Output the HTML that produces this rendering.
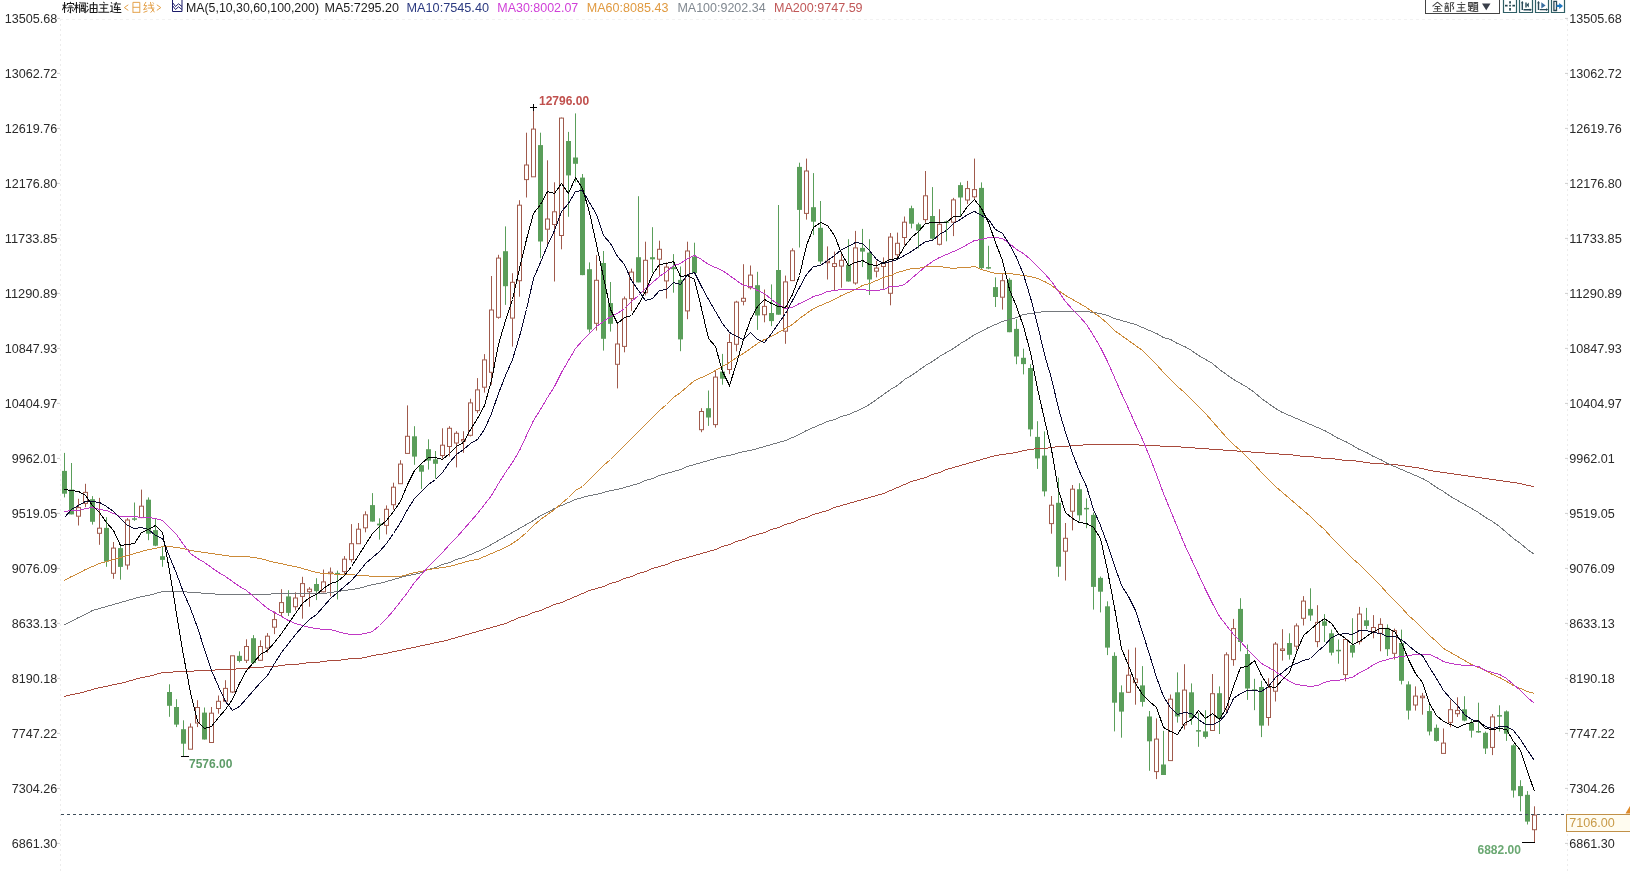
<!DOCTYPE html>
<html><head><meta charset="utf-8">
<style>
html,body{margin:0;padding:0;background:#fff;}
body{width:1630px;height:871px;overflow:hidden;position:relative;font-family:"Liberation Sans",sans-serif;}
svg{position:absolute;left:0;top:0;will-change:transform;}
</style></head><body>
<svg width="1630" height="871" viewBox="0 0 1630 871" font-family="Liberation Sans, sans-serif">
<path d="M60.5 19V871M1567.5 19V871" stroke="#ececec" stroke-dasharray="2 3" fill="none"/>
<path d="M60 19.5H1567" stroke="#f2f2f2" stroke-dasharray="3 3" fill="none"/>
<g font-size="12" fill="#2a2a2a">
<text x="4.74" y="22.7" textLength="52.56" lengthAdjust="spacingAndGlyphs">13505.68</text>
<text x="1569.3" y="22.7" textLength="52.56" lengthAdjust="spacingAndGlyphs">13505.68</text>
<path d="M57 18.4H60M1565 18.4H1568" stroke="#ccc" fill="none"/>
<text x="4.74" y="77.7" textLength="52.56" lengthAdjust="spacingAndGlyphs">13062.72</text>
<text x="1569.3" y="77.7" textLength="52.56" lengthAdjust="spacingAndGlyphs">13062.72</text>
<path d="M57 73.4H60M1565 73.4H1568" stroke="#ccc" fill="none"/>
<text x="4.74" y="132.7" textLength="52.56" lengthAdjust="spacingAndGlyphs">12619.76</text>
<text x="1569.3" y="132.7" textLength="52.56" lengthAdjust="spacingAndGlyphs">12619.76</text>
<path d="M57 128.4H60M1565 128.4H1568" stroke="#ccc" fill="none"/>
<text x="4.74" y="187.7" textLength="52.56" lengthAdjust="spacingAndGlyphs">12176.80</text>
<text x="1569.3" y="187.7" textLength="52.56" lengthAdjust="spacingAndGlyphs">12176.80</text>
<path d="M57 183.4H60M1565 183.4H1568" stroke="#ccc" fill="none"/>
<text x="4.74" y="242.7" textLength="52.56" lengthAdjust="spacingAndGlyphs">11733.85</text>
<text x="1569.3" y="242.7" textLength="52.56" lengthAdjust="spacingAndGlyphs">11733.85</text>
<path d="M57 238.4H60M1565 238.4H1568" stroke="#ccc" fill="none"/>
<text x="4.74" y="297.7" textLength="52.56" lengthAdjust="spacingAndGlyphs">11290.89</text>
<text x="1569.3" y="297.7" textLength="52.56" lengthAdjust="spacingAndGlyphs">11290.89</text>
<path d="M57 293.4H60M1565 293.4H1568" stroke="#ccc" fill="none"/>
<text x="4.74" y="352.7" textLength="52.56" lengthAdjust="spacingAndGlyphs">10847.93</text>
<text x="1569.3" y="352.7" textLength="52.56" lengthAdjust="spacingAndGlyphs">10847.93</text>
<path d="M57 348.4H60M1565 348.4H1568" stroke="#ccc" fill="none"/>
<text x="4.74" y="407.7" textLength="52.56" lengthAdjust="spacingAndGlyphs">10404.97</text>
<text x="1569.3" y="407.7" textLength="52.56" lengthAdjust="spacingAndGlyphs">10404.97</text>
<path d="M57 403.4H60M1565 403.4H1568" stroke="#ccc" fill="none"/>
<text x="11.75" y="462.7" textLength="45.55" lengthAdjust="spacingAndGlyphs">9962.01</text>
<text x="1569.3" y="462.7" textLength="45.55" lengthAdjust="spacingAndGlyphs">9962.01</text>
<path d="M57 458.4H60M1565 458.4H1568" stroke="#ccc" fill="none"/>
<text x="11.75" y="517.7" textLength="45.55" lengthAdjust="spacingAndGlyphs">9519.05</text>
<text x="1569.3" y="517.7" textLength="45.55" lengthAdjust="spacingAndGlyphs">9519.05</text>
<path d="M57 513.4H60M1565 513.4H1568" stroke="#ccc" fill="none"/>
<text x="11.75" y="572.7" textLength="45.55" lengthAdjust="spacingAndGlyphs">9076.09</text>
<text x="1569.3" y="572.7" textLength="45.55" lengthAdjust="spacingAndGlyphs">9076.09</text>
<path d="M57 568.4H60M1565 568.4H1568" stroke="#ccc" fill="none"/>
<text x="11.75" y="627.7" textLength="45.55" lengthAdjust="spacingAndGlyphs">8633.13</text>
<text x="1569.3" y="627.7" textLength="45.55" lengthAdjust="spacingAndGlyphs">8633.13</text>
<path d="M57 623.4H60M1565 623.4H1568" stroke="#ccc" fill="none"/>
<text x="11.75" y="682.7" textLength="45.55" lengthAdjust="spacingAndGlyphs">8190.18</text>
<text x="1569.3" y="682.7" textLength="45.55" lengthAdjust="spacingAndGlyphs">8190.18</text>
<path d="M57 678.4H60M1565 678.4H1568" stroke="#ccc" fill="none"/>
<text x="11.75" y="737.7" textLength="45.55" lengthAdjust="spacingAndGlyphs">7747.22</text>
<text x="1569.3" y="737.7" textLength="45.55" lengthAdjust="spacingAndGlyphs">7747.22</text>
<path d="M57 733.4H60M1565 733.4H1568" stroke="#ccc" fill="none"/>
<text x="11.75" y="792.7" textLength="45.55" lengthAdjust="spacingAndGlyphs">7304.26</text>
<text x="1569.3" y="792.7" textLength="45.55" lengthAdjust="spacingAndGlyphs">7304.26</text>
<path d="M57 788.4H60M1565 788.4H1568" stroke="#ccc" fill="none"/>
<text x="11.75" y="847.7" textLength="45.55" lengthAdjust="spacingAndGlyphs">6861.30</text>
<text x="1569.3" y="847.7" textLength="45.55" lengthAdjust="spacingAndGlyphs">6861.30</text>
<path d="M57 843.4H60M1565 843.4H1568" stroke="#ccc" fill="none"/>
</g>
<g stroke-width="1" fill="none">
<path d="M64.5 452.9V497.4" stroke="#5a9e5a"/>
<rect x="62.0" y="470.9" width="5" height="22.8" fill="#5a9e5a"/>
<path d="M71.5 463.0V514.4" stroke="#5a9e5a"/>
<rect x="69.0" y="489.6" width="5" height="24.8" fill="#5a9e5a"/>
<path d="M78.5 498.8V507.6M78.5 516.3V525.5" stroke="#a05a4c"/>
<rect x="76.5" y="507.6" width="4" height="8.6" fill="#fff" stroke="#a05a4c"/>
<path d="M85.5 483.8V492.4M85.5 503.4V507.1" stroke="#a05a4c"/>
<rect x="83.5" y="492.4" width="4" height="11.0" fill="#fff" stroke="#a05a4c"/>
<path d="M92.5 496.1V524.6" stroke="#5a9e5a"/>
<rect x="90.0" y="499.2" width="5" height="22.6" fill="#5a9e5a"/>
<path d="M99.5 497.9V528.2M99.5 533.4V544.8" stroke="#a05a4c"/>
<rect x="97.5" y="528.2" width="4" height="5.1" fill="#fff" stroke="#a05a4c"/>
<path d="M106.5 517.2V566.8" stroke="#5a9e5a"/>
<rect x="104.0" y="527.9" width="5" height="33.8" fill="#5a9e5a"/>
<path d="M113.5 542.0V548.1M113.5 573.3V578.8" stroke="#a05a4c"/>
<rect x="111.5" y="548.1" width="4" height="25.2" fill="#fff" stroke="#a05a4c"/>
<path d="M120.5 545.1V579.7" stroke="#5a9e5a"/>
<rect x="118.0" y="548.1" width="5" height="18.8" fill="#5a9e5a"/>
<path d="M127.5 518.1V520.0M127.5 565.0V569.6" stroke="#a05a4c"/>
<rect x="125.5" y="520.0" width="4" height="45.0" fill="#fff" stroke="#a05a4c"/>
<path d="M134.5 502.5V520.9" stroke="#5a9e5a"/>
<rect x="132.0" y="518.3" width="5" height="1.5" fill="#5a9e5a"/>
<path d="M141.5 489.6V506.2M141.5 517.6V518.1" stroke="#a05a4c"/>
<rect x="139.5" y="506.2" width="4" height="11.4" fill="#fff" stroke="#a05a4c"/>
<path d="M148.5 497.4V540.2" stroke="#5a9e5a"/>
<rect x="146.0" y="499.7" width="5" height="34.0" fill="#5a9e5a"/>
<path d="M155.5 519.0V546.2" stroke="#5a9e5a"/>
<rect x="153.0" y="530.1" width="5" height="15.6" fill="#5a9e5a"/>
<path d="M162.5 546.6V566.8" stroke="#5a9e5a"/>
<rect x="160.0" y="556.2" width="5" height="3.7" fill="#5a9e5a"/>
<path d="M169.5 684.3V716.8" stroke="#5a9e5a"/>
<rect x="167.0" y="692.0" width="5" height="13.8" fill="#5a9e5a"/>
<path d="M176.5 699.2V727.1" stroke="#5a9e5a"/>
<rect x="174.0" y="707.0" width="5" height="17.6" fill="#5a9e5a"/>
<path d="M183.5 720.3V756.0" stroke="#5a9e5a"/>
<rect x="181.0" y="729.2" width="5" height="14.5" fill="#5a9e5a"/>
<path d="M190.5 723.4V727.1M190.5 749.2V749.2" stroke="#a05a4c"/>
<rect x="188.5" y="727.1" width="4" height="22.1" fill="#fff" stroke="#a05a4c"/>
<path d="M197.5 700.2V707.5M197.5 723.0V727.1" stroke="#a05a4c"/>
<rect x="195.5" y="707.5" width="4" height="15.5" fill="#fff" stroke="#a05a4c"/>
<path d="M204.5 707.5V739.5" stroke="#5a9e5a"/>
<rect x="202.0" y="712.6" width="5" height="26.9" fill="#5a9e5a"/>
<path d="M211.5 707.0V713.2M211.5 742.6V742.6" stroke="#a05a4c"/>
<rect x="209.5" y="713.2" width="4" height="29.3" fill="#fff" stroke="#a05a4c"/>
<path d="M218.5 695.5V701.3M218.5 708.5V713.7" stroke="#a05a4c"/>
<rect x="216.5" y="701.3" width="4" height="7.2" fill="#fff" stroke="#a05a4c"/>
<path d="M225.5 680.2V688.4M225.5 701.3V702.3" stroke="#a05a4c"/>
<rect x="223.5" y="688.4" width="4" height="12.8" fill="#fff" stroke="#a05a4c"/>
<path d="M232.5 655.8V655.8M232.5 692.0V693.0" stroke="#a05a4c"/>
<rect x="230.5" y="655.8" width="4" height="36.2" fill="#fff" stroke="#a05a4c"/>
<path d="M239.5 651.3V662.4" stroke="#5a9e5a"/>
<rect x="237.0" y="655.8" width="5" height="5.2" fill="#5a9e5a"/>
<path d="M246.5 639.3V646.5M246.5 660.3V663.0" stroke="#a05a4c"/>
<rect x="244.5" y="646.5" width="4" height="13.8" fill="#fff" stroke="#a05a4c"/>
<path d="M253.5 635.1V664.1" stroke="#5a9e5a"/>
<rect x="251.0" y="638.2" width="5" height="24.8" fill="#5a9e5a"/>
<path d="M260.5 640.3V646.5M260.5 660.3V661.0" stroke="#a05a4c"/>
<rect x="258.5" y="646.5" width="4" height="13.8" fill="#fff" stroke="#a05a4c"/>
<path d="M267.5 633.1V636.2M267.5 647.9V652.7" stroke="#a05a4c"/>
<rect x="265.5" y="636.2" width="4" height="11.8" fill="#fff" stroke="#a05a4c"/>
<path d="M274.5 611.4V619.6M274.5 627.3V634.1" stroke="#a05a4c"/>
<rect x="272.5" y="619.6" width="4" height="7.6" fill="#fff" stroke="#a05a4c"/>
<path d="M281.5 589.2V602.6M281.5 612.5V616.0" stroke="#a05a4c"/>
<rect x="279.5" y="602.6" width="4" height="9.9" fill="#fff" stroke="#a05a4c"/>
<path d="M288.5 590.2V616.0" stroke="#5a9e5a"/>
<rect x="286.0" y="596.4" width="5" height="16.5" fill="#5a9e5a"/>
<path d="M295.5 592.3V598.0M295.5 606.7V610.4" stroke="#a05a4c"/>
<rect x="293.5" y="598.0" width="4" height="8.7" fill="#fff" stroke="#a05a4c"/>
<path d="M302.5 576.8V583.6M302.5 596.4V618.7" stroke="#a05a4c"/>
<rect x="300.5" y="583.6" width="4" height="12.8" fill="#fff" stroke="#a05a4c"/>
<path d="M309.5 587.1V589.2M309.5 591.6V606.7" stroke="#a05a4c"/>
<rect x="307.5" y="589.2" width="4" height="2.5" fill="#fff" stroke="#a05a4c"/>
<path d="M316.5 578.2V600.1" stroke="#5a9e5a"/>
<rect x="314.0" y="584.0" width="5" height="7.2" fill="#5a9e5a"/>
<path d="M323.5 569.5V581.9M323.5 591.8V592.3" stroke="#a05a4c"/>
<rect x="321.5" y="581.9" width="4" height="9.9" fill="#fff" stroke="#a05a4c"/>
<path d="M330.5 567.5V572.2M330.5 573.7V596.4" stroke="#a05a4c"/>
<rect x="328.5" y="572.2" width="4" height="1.5" fill="#fff" stroke="#a05a4c"/>
<path d="M337.5 570.6V599.5" stroke="#5a9e5a"/>
<rect x="335.0" y="572.9" width="5" height="1.5" fill="#5a9e5a"/>
<path d="M344.5 556.1V559.2M344.5 571.6V574.7" stroke="#a05a4c"/>
<rect x="342.5" y="559.2" width="4" height="12.4" fill="#fff" stroke="#a05a4c"/>
<path d="M351.5 524.1V543.7M351.5 559.6V562.3" stroke="#a05a4c"/>
<rect x="349.5" y="543.7" width="4" height="15.9" fill="#fff" stroke="#a05a4c"/>
<path d="M358.5 523.0V529.2M358.5 543.7V543.7" stroke="#a05a4c"/>
<rect x="356.5" y="529.2" width="4" height="14.5" fill="#fff" stroke="#a05a4c"/>
<path d="M365.5 511.3V514.8M365.5 527.8V532.3" stroke="#a05a4c"/>
<rect x="363.5" y="514.8" width="4" height="13.0" fill="#fff" stroke="#a05a4c"/>
<path d="M372.5 493.1V521.6" stroke="#5a9e5a"/>
<rect x="370.0" y="505.1" width="5" height="16.5" fill="#5a9e5a"/>
<path d="M379.5 518.3V539.6" stroke="#5a9e5a"/>
<rect x="377.0" y="523.6" width="5" height="1.7" fill="#5a9e5a"/>
<path d="M386.5 505.4V509.3M386.5 525.4V534.4" stroke="#a05a4c"/>
<rect x="384.5" y="509.3" width="4" height="16.1" fill="#fff" stroke="#a05a4c"/>
<path d="M393.5 482.7V487.2M393.5 504.7V509.6" stroke="#a05a4c"/>
<rect x="391.5" y="487.2" width="4" height="17.5" fill="#fff" stroke="#a05a4c"/>
<path d="M400.5 460.2V464.1M400.5 483.7V483.7" stroke="#a05a4c"/>
<rect x="398.5" y="464.1" width="4" height="19.6" fill="#fff" stroke="#a05a4c"/>
<path d="M407.5 405.4V436.3M407.5 453.3V453.3" stroke="#a05a4c"/>
<rect x="405.5" y="436.3" width="4" height="17.1" fill="#fff" stroke="#a05a4c"/>
<path d="M414.5 426.2V464.8" stroke="#5a9e5a"/>
<rect x="412.0" y="436.3" width="5" height="20.3" fill="#5a9e5a"/>
<path d="M421.5 464.8V488.9" stroke="#5a9e5a"/>
<rect x="419.0" y="465.2" width="5" height="6.5" fill="#5a9e5a"/>
<path d="M428.5 439.3V469.6" stroke="#5a9e5a"/>
<rect x="426.0" y="449.2" width="5" height="11.4" fill="#5a9e5a"/>
<path d="M435.5 451.0V478.6" stroke="#5a9e5a"/>
<rect x="433.0" y="459.3" width="5" height="4.5" fill="#5a9e5a"/>
<path d="M442.5 428.3V445.2M442.5 455.5V458.6" stroke="#a05a4c"/>
<rect x="440.5" y="445.2" width="4" height="10.3" fill="#fff" stroke="#a05a4c"/>
<path d="M449.5 426.2V428.3M449.5 446.5V456.5" stroke="#a05a4c"/>
<rect x="447.5" y="428.3" width="4" height="18.2" fill="#fff" stroke="#a05a4c"/>
<path d="M456.5 431.2V433.3M456.5 443.0V467.4" stroke="#a05a4c"/>
<rect x="454.5" y="433.3" width="4" height="9.7" fill="#fff" stroke="#a05a4c"/>
<path d="M463.5 431.2V439.5M463.5 441.0V452.9" stroke="#a05a4c"/>
<rect x="461.5" y="439.5" width="4" height="1.5" fill="#fff" stroke="#a05a4c"/>
<path d="M470.5 398.8V402.9M470.5 435.4V436.4" stroke="#a05a4c"/>
<rect x="468.5" y="402.9" width="4" height="32.4" fill="#fff" stroke="#a05a4c"/>
<path d="M477.5 378.1V389.9M477.5 410.6V413.2" stroke="#a05a4c"/>
<rect x="475.5" y="389.9" width="4" height="20.7" fill="#fff" stroke="#a05a4c"/>
<path d="M484.5 354.1V359.9M484.5 387.2V392.6" stroke="#a05a4c"/>
<rect x="482.5" y="359.9" width="4" height="27.3" fill="#fff" stroke="#a05a4c"/>
<path d="M491.5 276.0V310.0M491.5 372.3V384.7" stroke="#a05a4c"/>
<rect x="489.5" y="310.0" width="4" height="62.3" fill="#fff" stroke="#a05a4c"/>
<path d="M498.5 254.8V258.1M498.5 317.3V318.7" stroke="#a05a4c"/>
<rect x="496.5" y="258.1" width="4" height="59.2" fill="#fff" stroke="#a05a4c"/>
<path d="M505.5 226.4V304.9" stroke="#5a9e5a"/>
<rect x="503.0" y="251.2" width="5" height="35.0" fill="#5a9e5a"/>
<path d="M512.5 273.2V282.3M512.5 318.2V346.6" stroke="#a05a4c"/>
<rect x="510.5" y="282.3" width="4" height="35.8" fill="#fff" stroke="#a05a4c"/>
<path d="M519.5 200.2V205.2M519.5 280.7V296.7" stroke="#a05a4c"/>
<rect x="517.5" y="205.2" width="4" height="75.5" fill="#fff" stroke="#a05a4c"/>
<path d="M526.5 132.7V165.0M526.5 179.6V197.5" stroke="#a05a4c"/>
<rect x="524.5" y="165.0" width="4" height="14.6" fill="#fff" stroke="#a05a4c"/>
<path d="M533.5 107.9V129.1M533.5 176.8V176.8" stroke="#a05a4c"/>
<rect x="531.5" y="129.1" width="4" height="47.7" fill="#fff" stroke="#a05a4c"/>
<path d="M540.5 132.7V258.1" stroke="#5a9e5a"/>
<rect x="538.0" y="145.1" width="5" height="96.4" fill="#5a9e5a"/>
<path d="M547.5 160.3V219.0M547.5 229.2V244.3" stroke="#a05a4c"/>
<rect x="545.5" y="219.0" width="4" height="10.2" fill="#fff" stroke="#a05a4c"/>
<path d="M554.5 182.3V211.8M554.5 224.5V281.5" stroke="#a05a4c"/>
<rect x="552.5" y="211.8" width="4" height="12.7" fill="#fff" stroke="#a05a4c"/>
<path d="M561.5 117.6V118.1M561.5 235.5V249.3" stroke="#a05a4c"/>
<rect x="559.5" y="118.1" width="4" height="117.4" fill="#fff" stroke="#a05a4c"/>
<path d="M568.5 131.9V216.8" stroke="#5a9e5a"/>
<rect x="566.0" y="141.0" width="5" height="34.4" fill="#5a9e5a"/>
<path d="M575.5 113.4V182.3" stroke="#5a9e5a"/>
<rect x="573.0" y="157.5" width="5" height="6.3" fill="#5a9e5a"/>
<path d="M582.5 174.0V275.2" stroke="#5a9e5a"/>
<rect x="580.0" y="177.6" width="5" height="97.5" fill="#5a9e5a"/>
<path d="M589.5 262.4V332.6" stroke="#5a9e5a"/>
<rect x="587.0" y="269.2" width="5" height="60.3" fill="#5a9e5a"/>
<path d="M596.5 255.1V280.3M596.5 323.3V330.6" stroke="#a05a4c"/>
<rect x="594.5" y="280.3" width="4" height="43.0" fill="#fff" stroke="#a05a4c"/>
<path d="M603.5 251.0V350.6" stroke="#5a9e5a"/>
<rect x="601.0" y="263.0" width="5" height="75.8" fill="#5a9e5a"/>
<path d="M610.5 282.0V331.6" stroke="#5a9e5a"/>
<rect x="608.0" y="303.1" width="5" height="20.7" fill="#5a9e5a"/>
<path d="M617.5 323.3V344.0M617.5 364.2V388.4" stroke="#a05a4c"/>
<rect x="615.5" y="344.0" width="4" height="20.3" fill="#fff" stroke="#a05a4c"/>
<path d="M624.5 296.5V298.9M624.5 346.5V352.3" stroke="#a05a4c"/>
<rect x="622.5" y="298.9" width="4" height="47.5" fill="#fff" stroke="#a05a4c"/>
<path d="M631.5 268.6V272.1M631.5 298.5V310.9" stroke="#a05a4c"/>
<rect x="629.5" y="272.1" width="4" height="26.5" fill="#fff" stroke="#a05a4c"/>
<path d="M638.5 196.2V282.4" stroke="#5a9e5a"/>
<rect x="636.0" y="257.2" width="5" height="25.2" fill="#5a9e5a"/>
<path d="M645.5 241.7V260.3M645.5 292.7V295.4" stroke="#a05a4c"/>
<rect x="643.5" y="260.3" width="4" height="32.4" fill="#fff" stroke="#a05a4c"/>
<path d="M652.5 227.2V272.7" stroke="#5a9e5a"/>
<rect x="650.0" y="257.2" width="5" height="2.1" fill="#5a9e5a"/>
<path d="M659.5 240.7V249.3M659.5 259.3V275.8" stroke="#a05a4c"/>
<rect x="657.5" y="249.3" width="4" height="9.9" fill="#fff" stroke="#a05a4c"/>
<path d="M666.5 262.4V267.1M666.5 281.0V298.5" stroke="#a05a4c"/>
<rect x="664.5" y="267.1" width="4" height="13.8" fill="#fff" stroke="#a05a4c"/>
<path d="M673.5 254.1V292.7" stroke="#5a9e5a"/>
<rect x="671.0" y="267.1" width="5" height="2.1" fill="#5a9e5a"/>
<path d="M680.5 266.5V351.2" stroke="#5a9e5a"/>
<rect x="678.0" y="279.9" width="5" height="59.5" fill="#5a9e5a"/>
<path d="M687.5 241.7V251.0M687.5 310.9V319.2" stroke="#a05a4c"/>
<rect x="685.5" y="251.0" width="4" height="59.9" fill="#fff" stroke="#a05a4c"/>
<path d="M694.5 242.7V274.3" stroke="#5a9e5a"/>
<rect x="692.0" y="256.6" width="5" height="16.4" fill="#5a9e5a"/>
<path d="M701.5 408.2V411.5M701.5 429.6V432.2" stroke="#a05a4c"/>
<rect x="699.5" y="411.5" width="4" height="18.2" fill="#fff" stroke="#a05a4c"/>
<path d="M708.5 390.5V425.9" stroke="#5a9e5a"/>
<rect x="706.0" y="408.2" width="5" height="9.3" fill="#5a9e5a"/>
<path d="M715.5 371.0V377.1M715.5 424.6V427.6" stroke="#a05a4c"/>
<rect x="713.5" y="377.1" width="4" height="47.5" fill="#fff" stroke="#a05a4c"/>
<path d="M722.5 353.9V384.7" stroke="#5a9e5a"/>
<rect x="720.0" y="371.6" width="5" height="7.1" fill="#5a9e5a"/>
<path d="M729.5 333.7V342.5M729.5 369.5V374.1" stroke="#a05a4c"/>
<rect x="727.5" y="342.5" width="4" height="27.0" fill="#fff" stroke="#a05a4c"/>
<path d="M736.5 300.8V302.1M736.5 344.3V351.3" stroke="#a05a4c"/>
<rect x="734.5" y="302.1" width="4" height="42.2" fill="#fff" stroke="#a05a4c"/>
<path d="M743.5 264.2V298.3M743.5 301.3V305.4" stroke="#a05a4c"/>
<rect x="741.5" y="298.3" width="4" height="3.0" fill="#fff" stroke="#a05a4c"/>
<path d="M750.5 265.5V275.1M750.5 287.7V289.5" stroke="#a05a4c"/>
<rect x="748.5" y="275.1" width="4" height="12.6" fill="#fff" stroke="#a05a4c"/>
<path d="M757.5 271.8V329.9" stroke="#5a9e5a"/>
<rect x="755.0" y="285.2" width="5" height="30.3" fill="#5a9e5a"/>
<path d="M764.5 289.5V306.4M764.5 314.7V322.3" stroke="#a05a4c"/>
<rect x="762.5" y="306.4" width="4" height="8.3" fill="#fff" stroke="#a05a4c"/>
<path d="M771.5 284.4V326.1" stroke="#5a9e5a"/>
<rect x="769.0" y="313.0" width="5" height="8.1" fill="#5a9e5a"/>
<path d="M778.5 205.0V314.7" stroke="#5a9e5a"/>
<rect x="776.0" y="270.0" width="5" height="44.7" fill="#5a9e5a"/>
<path d="M785.5 275.6V281.9M785.5 331.1V343.8" stroke="#a05a4c"/>
<rect x="783.5" y="281.9" width="4" height="49.3" fill="#fff" stroke="#a05a4c"/>
<path d="M792.5 248.3V250.8M792.5 280.6V280.6" stroke="#a05a4c"/>
<rect x="790.5" y="250.8" width="4" height="29.8" fill="#fff" stroke="#a05a4c"/>
<path d="M799.5 162.7V247.5" stroke="#5a9e5a"/>
<rect x="797.0" y="166.9" width="5" height="43.0" fill="#5a9e5a"/>
<path d="M806.5 158.6V171.0M806.5 213.4V219.6" stroke="#a05a4c"/>
<rect x="804.5" y="171.0" width="4" height="42.4" fill="#fff" stroke="#a05a4c"/>
<path d="M813.5 173.1V235.1" stroke="#5a9e5a"/>
<rect x="811.0" y="207.2" width="5" height="14.5" fill="#5a9e5a"/>
<path d="M820.5 201.0V264.0" stroke="#5a9e5a"/>
<rect x="818.0" y="227.8" width="5" height="33.7" fill="#5a9e5a"/>
<path d="M827.5 246.4V261.2M827.5 262.7V279.5" stroke="#a05a4c"/>
<rect x="825.5" y="261.2" width="4" height="1.5" fill="#fff" stroke="#a05a4c"/>
<path d="M834.5 251.6V263.6M834.5 266.5V290.9" stroke="#a05a4c"/>
<rect x="832.5" y="263.6" width="4" height="2.9" fill="#fff" stroke="#a05a4c"/>
<path d="M841.5 251.6V260.3M841.5 266.1V287.8" stroke="#a05a4c"/>
<rect x="839.5" y="260.3" width="4" height="5.8" fill="#fff" stroke="#a05a4c"/>
<path d="M848.5 239.2V281.6" stroke="#5a9e5a"/>
<rect x="846.0" y="265.0" width="5" height="16.5" fill="#5a9e5a"/>
<path d="M855.5 230.9V247.9M855.5 283.0V284.7" stroke="#a05a4c"/>
<rect x="853.5" y="247.9" width="4" height="35.1" fill="#fff" stroke="#a05a4c"/>
<path d="M862.5 228.9V267.1" stroke="#5a9e5a"/>
<rect x="860.0" y="247.9" width="5" height="3.7" fill="#5a9e5a"/>
<path d="M869.5 239.2V295.0" stroke="#5a9e5a"/>
<rect x="867.0" y="252.6" width="5" height="26.9" fill="#5a9e5a"/>
<path d="M876.5 260.9V268.1M876.5 271.2V277.4" stroke="#a05a4c"/>
<rect x="874.5" y="268.1" width="4" height="3.1" fill="#fff" stroke="#a05a4c"/>
<path d="M883.5 257.4V263.0M883.5 266.5V288.8" stroke="#a05a4c"/>
<rect x="881.5" y="263.0" width="4" height="3.5" fill="#fff" stroke="#a05a4c"/>
<path d="M890.5 233.0V237.1M890.5 293.3V305.3" stroke="#a05a4c"/>
<rect x="888.5" y="237.1" width="4" height="56.2" fill="#fff" stroke="#a05a4c"/>
<path d="M897.5 232.6V243.3M897.5 254.7V257.8" stroke="#a05a4c"/>
<rect x="895.5" y="243.3" width="4" height="11.4" fill="#fff" stroke="#a05a4c"/>
<path d="M904.5 216.5V222.2M904.5 237.5V245.4" stroke="#a05a4c"/>
<rect x="902.5" y="222.2" width="4" height="15.3" fill="#fff" stroke="#a05a4c"/>
<path d="M911.5 205.7V228.4" stroke="#5a9e5a"/>
<rect x="909.0" y="208.2" width="5" height="15.5" fill="#5a9e5a"/>
<path d="M918.5 222.7V248.5" stroke="#5a9e5a"/>
<rect x="916.0" y="224.3" width="5" height="6.2" fill="#5a9e5a"/>
<path d="M925.5 171.0V195.8M925.5 219.6V222.7" stroke="#a05a4c"/>
<rect x="923.5" y="195.8" width="4" height="23.8" fill="#fff" stroke="#a05a4c"/>
<path d="M932.5 187.1V240.2" stroke="#5a9e5a"/>
<rect x="930.0" y="216.0" width="5" height="22.7" fill="#5a9e5a"/>
<path d="M939.5 209.2V224.3M939.5 244.4V245.4" stroke="#a05a4c"/>
<rect x="937.5" y="224.3" width="4" height="20.0" fill="#fff" stroke="#a05a4c"/>
<path d="M946.5 220.6V241.3" stroke="#5a9e5a"/>
<rect x="944.0" y="221.4" width="5" height="1.5" fill="#5a9e5a"/>
<path d="M953.5 197.9V199.9M953.5 222.2V236.1" stroke="#a05a4c"/>
<rect x="951.5" y="199.9" width="4" height="22.3" fill="#fff" stroke="#a05a4c"/>
<path d="M960.5 182.4V216.0" stroke="#5a9e5a"/>
<rect x="958.0" y="185.1" width="5" height="12.4" fill="#5a9e5a"/>
<path d="M967.5 180.9V188.6M967.5 199.9V204.1" stroke="#a05a4c"/>
<rect x="965.5" y="188.6" width="4" height="11.4" fill="#fff" stroke="#a05a4c"/>
<path d="M974.5 158.6V189.6M974.5 196.8V198.9" stroke="#a05a4c"/>
<rect x="972.5" y="189.6" width="4" height="7.2" fill="#fff" stroke="#a05a4c"/>
<path d="M981.5 182.4V269.2" stroke="#5a9e5a"/>
<rect x="979.0" y="187.9" width="5" height="80.2" fill="#5a9e5a"/>
<path d="M988.5 245.8V269.2" stroke="#5a9e5a"/>
<rect x="986.0" y="267.1" width="5" height="1.5" fill="#5a9e5a"/>
<path d="M995.5 277.4V307.0" stroke="#5a9e5a"/>
<rect x="993.0" y="287.1" width="5" height="9.9" fill="#5a9e5a"/>
<path d="M1002.5 273.8V280.7M1002.5 297.2V309.6" stroke="#a05a4c"/>
<rect x="1000.5" y="280.7" width="4" height="16.5" fill="#fff" stroke="#a05a4c"/>
<path d="M1009.5 277.9V332.2" stroke="#5a9e5a"/>
<rect x="1007.0" y="279.8" width="5" height="52.4" fill="#5a9e5a"/>
<path d="M1016.5 319.2V364.2" stroke="#5a9e5a"/>
<rect x="1014.0" y="328.9" width="5" height="27.6" fill="#5a9e5a"/>
<path d="M1023.5 348.7V374.4" stroke="#5a9e5a"/>
<rect x="1021.0" y="357.8" width="5" height="6.3" fill="#5a9e5a"/>
<path d="M1030.5 364.2V436.4" stroke="#5a9e5a"/>
<rect x="1028.0" y="368.0" width="5" height="61.4" fill="#5a9e5a"/>
<path d="M1037.5 421.2V468.9" stroke="#5a9e5a"/>
<rect x="1035.0" y="436.9" width="5" height="21.5" fill="#5a9e5a"/>
<path d="M1044.5 431.4V496.4" stroke="#5a9e5a"/>
<rect x="1042.0" y="455.6" width="5" height="35.8" fill="#5a9e5a"/>
<path d="M1051.5 496.0V505.2M1051.5 523.6V533.7" stroke="#a05a4c"/>
<rect x="1049.5" y="505.2" width="4" height="18.4" fill="#fff" stroke="#a05a4c"/>
<path d="M1058.5 477.7V576.8" stroke="#5a9e5a"/>
<rect x="1056.0" y="502.8" width="5" height="63.9" fill="#5a9e5a"/>
<path d="M1065.5 523.0V538.3M1065.5 551.1V580.5" stroke="#a05a4c"/>
<rect x="1063.5" y="538.3" width="4" height="12.9" fill="#fff" stroke="#a05a4c"/>
<path d="M1072.5 485.0V489.2M1072.5 511.3V530.4" stroke="#a05a4c"/>
<rect x="1070.5" y="489.2" width="4" height="22.0" fill="#fff" stroke="#a05a4c"/>
<path d="M1079.5 483.2V520.8" stroke="#5a9e5a"/>
<rect x="1077.0" y="489.2" width="5" height="26.1" fill="#5a9e5a"/>
<path d="M1086.5 498.4V528.2" stroke="#5a9e5a"/>
<rect x="1084.0" y="507.9" width="5" height="1.5" fill="#5a9e5a"/>
<path d="M1093.5 512.6V609.6" stroke="#5a9e5a"/>
<rect x="1091.0" y="514.9" width="5" height="72.0" fill="#5a9e5a"/>
<path d="M1100.5 576.5V612.4" stroke="#5a9e5a"/>
<rect x="1098.0" y="577.9" width="5" height="13.8" fill="#5a9e5a"/>
<path d="M1107.5 601.3V655.1" stroke="#5a9e5a"/>
<rect x="1105.0" y="606.3" width="5" height="41.3" fill="#5a9e5a"/>
<path d="M1114.5 652.3V731.4" stroke="#5a9e5a"/>
<rect x="1112.0" y="655.9" width="5" height="46.8" fill="#5a9e5a"/>
<path d="M1121.5 685.4V737.7" stroke="#5a9e5a"/>
<rect x="1119.0" y="692.3" width="5" height="19.3" fill="#5a9e5a"/>
<path d="M1128.5 649.6V675.2M1128.5 692.3V692.8" stroke="#a05a4c"/>
<rect x="1126.5" y="675.2" width="4" height="17.1" fill="#fff" stroke="#a05a4c"/>
<path d="M1135.5 647.6V679.0M1135.5 682.6V704.7" stroke="#a05a4c"/>
<rect x="1133.5" y="679.0" width="4" height="3.6" fill="#fff" stroke="#a05a4c"/>
<path d="M1142.5 666.1V706.6" stroke="#5a9e5a"/>
<rect x="1140.0" y="685.4" width="5" height="16.5" fill="#5a9e5a"/>
<path d="M1149.5 711.0V770.8" stroke="#5a9e5a"/>
<rect x="1147.0" y="716.5" width="5" height="24.8" fill="#5a9e5a"/>
<path d="M1156.5 718.4V739.1M1156.5 771.6V779.1" stroke="#a05a4c"/>
<rect x="1154.5" y="739.1" width="4" height="32.5" fill="#fff" stroke="#a05a4c"/>
<path d="M1163.5 730.8V774.9" stroke="#5a9e5a"/>
<rect x="1161.0" y="764.5" width="5" height="10.5" fill="#5a9e5a"/>
<path d="M1170.5 694.5V699.2M1170.5 760.6V760.6" stroke="#a05a4c"/>
<rect x="1168.5" y="699.2" width="4" height="61.4" fill="#fff" stroke="#a05a4c"/>
<path d="M1177.5 672.4V722.6" stroke="#5a9e5a"/>
<rect x="1175.0" y="692.3" width="5" height="24.2" fill="#5a9e5a"/>
<path d="M1184.5 664.2V690.1M1184.5 724.8V729.5" stroke="#a05a4c"/>
<rect x="1182.5" y="690.1" width="4" height="34.7" fill="#fff" stroke="#a05a4c"/>
<path d="M1191.5 683.4V724.8" stroke="#5a9e5a"/>
<rect x="1189.0" y="692.3" width="5" height="25.4" fill="#5a9e5a"/>
<path d="M1198.5 712.9V746.8" stroke="#5a9e5a"/>
<rect x="1196.0" y="730.1" width="5" height="1.5" fill="#5a9e5a"/>
<path d="M1205.5 710.2V738.6" stroke="#5a9e5a"/>
<rect x="1203.0" y="731.4" width="5" height="5.5" fill="#5a9e5a"/>
<path d="M1212.5 674.0V693.7M1212.5 730.4V730.9" stroke="#a05a4c"/>
<rect x="1210.5" y="693.7" width="4" height="36.8" fill="#fff" stroke="#a05a4c"/>
<path d="M1219.5 686.4V734.0" stroke="#5a9e5a"/>
<rect x="1217.0" y="693.2" width="5" height="25.6" fill="#5a9e5a"/>
<path d="M1226.5 652.3V654.8M1226.5 709.2V712.3" stroke="#a05a4c"/>
<rect x="1224.5" y="654.8" width="4" height="54.4" fill="#fff" stroke="#a05a4c"/>
<path d="M1233.5 618.9V628.6M1233.5 659.6V665.8" stroke="#a05a4c"/>
<rect x="1231.5" y="628.6" width="4" height="31.0" fill="#fff" stroke="#a05a4c"/>
<path d="M1240.5 598.2V651.3" stroke="#5a9e5a"/>
<rect x="1238.0" y="608.9" width="5" height="33.1" fill="#5a9e5a"/>
<path d="M1247.5 644.5V699.9" stroke="#5a9e5a"/>
<rect x="1245.0" y="654.0" width="5" height="34.5" fill="#5a9e5a"/>
<path d="M1254.5 678.8V710.2" stroke="#5a9e5a"/>
<rect x="1252.0" y="689.3" width="5" height="1.5" fill="#5a9e5a"/>
<path d="M1261.5 680.8V737.1" stroke="#5a9e5a"/>
<rect x="1259.0" y="687.0" width="5" height="38.6" fill="#5a9e5a"/>
<path d="M1268.5 678.2V687.5M1268.5 717.4V725.7" stroke="#a05a4c"/>
<rect x="1266.5" y="687.5" width="4" height="30.0" fill="#fff" stroke="#a05a4c"/>
<path d="M1275.5 642.0V644.1M1275.5 691.2V701.5" stroke="#a05a4c"/>
<rect x="1273.5" y="644.1" width="4" height="47.1" fill="#fff" stroke="#a05a4c"/>
<path d="M1282.5 629.2V649.0M1282.5 650.5V660.6" stroke="#a05a4c"/>
<rect x="1280.5" y="649.0" width="4" height="1.5" fill="#fff" stroke="#a05a4c"/>
<path d="M1289.5 633.3V659.6" stroke="#5a9e5a"/>
<rect x="1287.0" y="643.0" width="5" height="11.8" fill="#5a9e5a"/>
<path d="M1296.5 623.4V625.9M1296.5 646.1V650.3" stroke="#a05a4c"/>
<rect x="1294.5" y="625.9" width="4" height="20.3" fill="#fff" stroke="#a05a4c"/>
<path d="M1303.5 596.1V601.1M1303.5 618.2V625.5" stroke="#a05a4c"/>
<rect x="1301.5" y="601.1" width="4" height="17.2" fill="#fff" stroke="#a05a4c"/>
<path d="M1310.5 588.3V620.9" stroke="#5a9e5a"/>
<rect x="1308.0" y="608.9" width="5" height="6.6" fill="#5a9e5a"/>
<path d="M1317.5 605.2V622.4M1317.5 641.6V647.2" stroke="#a05a4c"/>
<rect x="1315.5" y="622.4" width="4" height="19.2" fill="#fff" stroke="#a05a4c"/>
<path d="M1324.5 614.1V642.0" stroke="#5a9e5a"/>
<rect x="1322.0" y="621.3" width="5" height="4.5" fill="#5a9e5a"/>
<path d="M1331.5 629.6V655.4" stroke="#5a9e5a"/>
<rect x="1329.0" y="633.3" width="5" height="19.4" fill="#5a9e5a"/>
<path d="M1338.5 639.5V663.7" stroke="#5a9e5a"/>
<rect x="1336.0" y="649.8" width="5" height="1.5" fill="#5a9e5a"/>
<path d="M1345.5 637.9V639.5M1345.5 674.6V681.3" stroke="#a05a4c"/>
<rect x="1343.5" y="639.5" width="4" height="35.1" fill="#fff" stroke="#a05a4c"/>
<path d="M1352.5 618.2V657.5" stroke="#5a9e5a"/>
<rect x="1350.0" y="645.1" width="5" height="7.6" fill="#5a9e5a"/>
<path d="M1359.5 606.9V614.1M1359.5 641.6V644.5" stroke="#a05a4c"/>
<rect x="1357.5" y="614.1" width="4" height="27.5" fill="#fff" stroke="#a05a4c"/>
<path d="M1366.5 607.9V629.2" stroke="#5a9e5a"/>
<rect x="1364.0" y="620.3" width="5" height="5.6" fill="#5a9e5a"/>
<path d="M1373.5 615.1V627.5M1373.5 631.7V638.3" stroke="#a05a4c"/>
<rect x="1371.5" y="627.5" width="4" height="4.1" fill="#fff" stroke="#a05a4c"/>
<path d="M1380.5 618.2V624.4M1380.5 633.3V651.3" stroke="#a05a4c"/>
<rect x="1378.5" y="624.4" width="4" height="8.9" fill="#fff" stroke="#a05a4c"/>
<path d="M1387.5 624.4V656.0" stroke="#5a9e5a"/>
<rect x="1385.0" y="627.9" width="5" height="21.3" fill="#5a9e5a"/>
<path d="M1394.5 628.6V630.6M1394.5 653.4V659.6" stroke="#a05a4c"/>
<rect x="1392.5" y="630.6" width="4" height="22.7" fill="#fff" stroke="#a05a4c"/>
<path d="M1401.5 629.6V684.4" stroke="#5a9e5a"/>
<rect x="1399.0" y="643.0" width="5" height="37.8" fill="#5a9e5a"/>
<path d="M1408.5 681.3V719.5" stroke="#5a9e5a"/>
<rect x="1406.0" y="684.4" width="5" height="26.2" fill="#5a9e5a"/>
<path d="M1415.5 686.4V696.1M1415.5 705.0V710.6" stroke="#a05a4c"/>
<rect x="1413.5" y="696.1" width="4" height="8.9" fill="#fff" stroke="#a05a4c"/>
<path d="M1422.5 692.9V696.2M1422.5 697.7V714.7" stroke="#a05a4c"/>
<rect x="1420.5" y="696.2" width="4" height="1.5" fill="#fff" stroke="#a05a4c"/>
<path d="M1429.5 705.3V735.4" stroke="#5a9e5a"/>
<rect x="1427.0" y="711.0" width="5" height="20.5" fill="#5a9e5a"/>
<path d="M1436.5 724.5V741.6" stroke="#5a9e5a"/>
<rect x="1434.0" y="727.8" width="5" height="13.1" fill="#5a9e5a"/>
<path d="M1443.5 728.5V743.1M1443.5 753.3V753.3" stroke="#a05a4c"/>
<rect x="1441.5" y="743.1" width="4" height="10.3" fill="#fff" stroke="#a05a4c"/>
<path d="M1450.5 699.5V709.7M1450.5 722.4V727.2" stroke="#a05a4c"/>
<rect x="1448.5" y="709.7" width="4" height="12.7" fill="#fff" stroke="#a05a4c"/>
<path d="M1457.5 697.3V710.4M1457.5 713.6V716.9" stroke="#a05a4c"/>
<rect x="1455.5" y="710.4" width="4" height="3.3" fill="#fff" stroke="#a05a4c"/>
<path d="M1464.5 696.2V721.3" stroke="#5a9e5a"/>
<rect x="1462.0" y="709.3" width="5" height="11.3" fill="#5a9e5a"/>
<path d="M1471.5 719.7V737.6" stroke="#5a9e5a"/>
<rect x="1469.0" y="722.8" width="5" height="7.9" fill="#5a9e5a"/>
<path d="M1478.5 702.7V732.8" stroke="#5a9e5a"/>
<rect x="1476.0" y="731.0" width="5" height="1.5" fill="#5a9e5a"/>
<path d="M1485.5 731.5V754.0" stroke="#5a9e5a"/>
<rect x="1483.0" y="732.8" width="5" height="15.7" fill="#5a9e5a"/>
<path d="M1492.5 714.1V716.9M1492.5 747.4V755.1" stroke="#a05a4c"/>
<rect x="1490.5" y="716.9" width="4" height="30.5" fill="#fff" stroke="#a05a4c"/>
<path d="M1499.5 705.3V731.5" stroke="#5a9e5a"/>
<rect x="1497.0" y="715.1" width="5" height="1.5" fill="#5a9e5a"/>
<path d="M1506.5 710.4V740.9" stroke="#5a9e5a"/>
<rect x="1504.0" y="711.4" width="5" height="22.3" fill="#5a9e5a"/>
<path d="M1513.5 744.2V797.6" stroke="#5a9e5a"/>
<rect x="1511.0" y="745.3" width="5" height="45.2" fill="#5a9e5a"/>
<path d="M1520.5 780.2V811.4" stroke="#5a9e5a"/>
<rect x="1518.0" y="786.1" width="5" height="10.0" fill="#5a9e5a"/>
<path d="M1527.5 791.1V824.5" stroke="#5a9e5a"/>
<rect x="1525.0" y="794.8" width="5" height="26.8" fill="#5a9e5a"/>
<path d="M1534.5 806.3V815.1M1534.5 829.7V842.3" stroke="#a05a4c"/>
<rect x="1532.5" y="815.1" width="4" height="14.6" fill="#fff" stroke="#a05a4c"/>
</g>
<g stroke-width="1" fill="none" shape-rendering="crispEdges">
<path d="M64.5 696.5 L71.5 694.5 L78.5 693.5 L85.5 691.5 L92.5 689.5 L99.5 687.5 L106.5 686.5 L113.5 684.5 L120.5 683.5 L127.5 681.5 L134.5 679.5 L141.5 677.5 L148.5 676.5 L155.5 674.5 L162.5 672.5 L169.5 672.5 L176.5 671.5 L183.5 671.5 L190.5 671.5 L197.5 670.5 L204.5 670.5 L211.5 670.5 L218.5 669.5 L225.5 669.5 L232.5 669.5 L239.5 668.5 L246.5 668.5 L253.5 667.5 L260.5 667.5 L267.5 666.5 L274.5 666.5 L281.5 665.5 L288.5 664.5 L295.5 664.5 L302.5 663.5 L309.5 662.5 L316.5 662.5 L323.5 661.5 L330.5 660.5 L337.5 660.5 L344.5 659.5 L351.5 658.5 L358.5 658.5 L365.5 657.5 L372.5 655.5 L379.5 654.5 L386.5 653.5 L393.5 651.5 L400.5 650.5 L407.5 648.5 L414.5 647.5 L421.5 645.5 L428.5 644.5 L435.5 642.5 L442.5 641.5 L449.5 639.5 L456.5 637.5 L463.5 635.5 L470.5 633.5 L477.5 631.5 L484.5 629.5 L491.5 627.5 L498.5 625.5 L505.5 623.5 L512.5 620.5 L519.5 617.5 L526.5 615.5 L533.5 612.5 L540.5 610.5 L547.5 607.5 L554.5 604.5 L561.5 602.5 L568.5 599.5 L575.5 596.5 L582.5 593.5 L589.5 590.5 L596.5 588.5 L603.5 586.5 L610.5 583.5 L617.5 581.5 L624.5 578.5 L631.5 576.5 L638.5 573.5 L645.5 571.5 L652.5 568.5 L659.5 566.5 L666.5 564.5 L673.5 561.5 L680.5 559.5 L687.5 557.5 L694.5 555.5 L701.5 553.5 L708.5 551.5 L715.5 549.5 L722.5 546.5 L729.5 544.5 L736.5 541.5 L743.5 539.5 L750.5 536.5 L757.5 534.5 L764.5 532.5 L771.5 529.5 L778.5 527.5 L785.5 524.5 L792.5 522.5 L799.5 519.5 L806.5 517.5 L813.5 514.5 L820.5 512.5 L827.5 510.5 L834.5 507.5 L841.5 505.5 L848.5 503.5 L855.5 501.5 L862.5 499.5 L869.5 497.5 L876.5 495.5 L883.5 493.5 L890.5 490.5 L897.5 487.5 L904.5 484.5 L911.5 481.5 L918.5 479.5 L925.5 477.5 L932.5 474.5 L939.5 472.5 L946.5 469.5 L953.5 467.5 L960.5 465.5 L967.5 463.5 L974.5 461.5 L981.5 459.5 L988.5 457.5 L995.5 455.5 L1002.5 454.5 L1009.5 453.5 L1016.5 452.5 L1023.5 450.5 L1030.5 449.5 L1037.5 448.5 L1044.5 448.5 L1051.5 447.5 L1058.5 446.5 L1065.5 446.5 L1072.5 445.5 L1079.5 445.5 L1086.5 444.5 L1093.5 444.5 L1100.5 444.5 L1107.5 444.5 L1114.5 444.5 L1121.5 444.5 L1128.5 444.5 L1135.5 444.5 L1142.5 445.5 L1149.5 445.5 L1156.5 445.5 L1163.5 446.5 L1170.5 446.5 L1177.5 446.5 L1184.5 447.5 L1191.5 447.5 L1198.5 448.5 L1205.5 448.5 L1212.5 449.5 L1219.5 449.5 L1226.5 450.5 L1233.5 450.5 L1240.5 451.5 L1247.5 451.5 L1254.5 452.5 L1261.5 452.5 L1268.5 453.5 L1275.5 453.5 L1282.5 454.5 L1289.5 454.5 L1296.5 455.5 L1303.5 456.5 L1310.5 456.5 L1317.5 457.5 L1324.5 458.5 L1331.5 458.5 L1338.5 459.5 L1345.5 460.5 L1352.5 460.5 L1359.5 461.5 L1366.5 462.5 L1373.5 463.5 L1380.5 463.5 L1387.5 464.5 L1394.5 464.5 L1401.5 465.5 L1408.5 466.5 L1415.5 467.5 L1422.5 468.5 L1429.5 470.5 L1436.5 471.5 L1443.5 472.5 L1450.5 473.5 L1457.5 474.5 L1464.5 475.5 L1471.5 476.5 L1478.5 477.5 L1485.5 478.5 L1492.5 479.5 L1499.5 480.5 L1506.5 481.5 L1513.5 482.5 L1520.5 483.5 L1527.5 485.5 L1534.5 486.5" stroke="#a84a3c"/>
<path d="M64.5 624.5 L71.5 621.5 L78.5 617.5 L85.5 614.5 L92.5 610.5 L99.5 608.5 L106.5 606.5 L113.5 604.5 L120.5 602.5 L127.5 600.5 L134.5 598.5 L141.5 596.5 L148.5 595.5 L155.5 593.5 L162.5 591.5 L169.5 591.5 L176.5 591.5 L183.5 591.5 L190.5 592.5 L197.5 592.5 L204.5 593.5 L211.5 593.5 L218.5 594.5 L225.5 594.5 L232.5 594.5 L239.5 594.5 L246.5 594.5 L253.5 594.5 L260.5 594.5 L267.5 594.5 L274.5 593.5 L281.5 593.5 L288.5 593.5 L295.5 593.5 L302.5 593.5 L309.5 593.5 L316.5 593.5 L323.5 593.5 L330.5 592.5 L337.5 591.5 L344.5 590.5 L351.5 589.5 L358.5 588.5 L365.5 586.5 L372.5 584.5 L379.5 583.5 L386.5 581.5 L393.5 579.5 L400.5 577.5 L407.5 575.5 L414.5 574.5 L421.5 572.5 L428.5 569.5 L435.5 567.5 L442.5 564.5 L449.5 562.5 L456.5 559.5 L463.5 557.5 L470.5 554.5 L477.5 551.5 L484.5 548.5 L491.5 544.5 L498.5 540.5 L505.5 536.5 L512.5 532.5 L519.5 528.5 L526.5 524.5 L533.5 520.5 L540.5 515.5 L547.5 512.5 L554.5 508.5 L561.5 505.5 L568.5 502.5 L575.5 499.5 L582.5 497.5 L589.5 495.5 L596.5 494.5 L603.5 492.5 L610.5 490.5 L617.5 489.5 L624.5 487.5 L631.5 485.5 L638.5 483.5 L645.5 480.5 L652.5 478.5 L659.5 475.5 L666.5 473.5 L673.5 471.5 L680.5 469.5 L687.5 466.5 L694.5 464.5 L701.5 462.5 L708.5 460.5 L715.5 458.5 L722.5 456.5 L729.5 455.5 L736.5 453.5 L743.5 451.5 L750.5 450.5 L757.5 448.5 L764.5 446.5 L771.5 444.5 L778.5 442.5 L785.5 440.5 L792.5 437.5 L799.5 434.5 L806.5 430.5 L813.5 427.5 L820.5 424.5 L827.5 421.5 L834.5 419.5 L841.5 416.5 L848.5 414.5 L855.5 411.5 L862.5 408.5 L869.5 404.5 L876.5 399.5 L883.5 394.5 L890.5 389.5 L897.5 385.5 L904.5 379.5 L911.5 375.5 L918.5 370.5 L925.5 365.5 L932.5 361.5 L939.5 356.5 L946.5 352.5 L953.5 348.5 L960.5 343.5 L967.5 339.5 L974.5 334.5 L981.5 331.5 L988.5 327.5 L995.5 324.5 L1002.5 321.5 L1009.5 319.5 L1016.5 317.5 L1023.5 314.5 L1030.5 313.5 L1037.5 312.5 L1044.5 311.5 L1051.5 311.5 L1058.5 311.5 L1065.5 311.5 L1072.5 311.5 L1079.5 311.5 L1086.5 311.5 L1093.5 312.5 L1100.5 313.5 L1107.5 315.5 L1114.5 318.5 L1121.5 320.5 L1128.5 322.5 L1135.5 324.5 L1142.5 327.5 L1149.5 330.5 L1156.5 333.5 L1163.5 337.5 L1170.5 339.5 L1177.5 343.5 L1184.5 346.5 L1191.5 350.5 L1198.5 355.5 L1205.5 359.5 L1212.5 363.5 L1219.5 369.5 L1226.5 374.5 L1233.5 379.5 L1240.5 383.5 L1247.5 387.5 L1254.5 392.5 L1261.5 398.5 L1268.5 403.5 L1275.5 408.5 L1282.5 412.5 L1289.5 415.5 L1296.5 418.5 L1303.5 421.5 L1310.5 424.5 L1317.5 427.5 L1324.5 430.5 L1331.5 434.5 L1338.5 438.5 L1345.5 441.5 L1352.5 445.5 L1359.5 449.5 L1366.5 452.5 L1373.5 456.5 L1380.5 459.5 L1387.5 463.5 L1394.5 466.5 L1401.5 469.5 L1408.5 472.5 L1415.5 475.5 L1422.5 478.5 L1429.5 482.5 L1436.5 487.5 L1443.5 491.5 L1450.5 496.5 L1457.5 500.5 L1464.5 504.5 L1471.5 508.5 L1478.5 512.5 L1485.5 517.5 L1492.5 521.5 L1499.5 526.5 L1506.5 532.5 L1513.5 538.5 L1520.5 543.5 L1527.5 549.5 L1534.5 554.5" stroke="#74787c"/>
<path d="M64.5 580.5 L71.5 576.5 L78.5 573.5 L85.5 569.5 L92.5 566.5 L99.5 563.5 L106.5 561.5 L113.5 559.5 L120.5 557.5 L127.5 555.5 L134.5 553.5 L141.5 551.5 L148.5 549.5 L155.5 548.5 L162.5 546.5 L169.5 546.5 L176.5 547.5 L183.5 548.5 L190.5 550.5 L197.5 551.5 L204.5 552.5 L211.5 553.5 L218.5 554.5 L225.5 555.5 L232.5 556.5 L239.5 556.5 L246.5 556.5 L253.5 557.5 L260.5 558.5 L267.5 560.5 L274.5 562.5 L281.5 563.5 L288.5 565.5 L295.5 566.5 L302.5 568.5 L309.5 570.5 L316.5 572.5 L323.5 573.5 L330.5 573.5 L337.5 574.5 L344.5 574.5 L351.5 574.5 L358.5 575.5 L365.5 575.5 L372.5 576.5 L379.5 576.5 L386.5 576.5 L393.5 576.5 L400.5 576.5 L407.5 574.5 L414.5 572.5 L421.5 571.5 L428.5 569.5 L435.5 568.5 L442.5 567.5 L449.5 566.5 L456.5 564.5 L463.5 562.5 L470.5 560.5 L477.5 559.5 L484.5 556.5 L491.5 553.5 L498.5 550.5 L505.5 547.5 L512.5 543.5 L519.5 538.5 L526.5 532.5 L533.5 525.5 L540.5 519.5 L547.5 514.5 L554.5 509.5 L561.5 503.5 L568.5 497.5 L575.5 490.5 L582.5 486.5 L589.5 479.5 L596.5 472.5 L603.5 465.5 L610.5 459.5 L617.5 452.5 L624.5 445.5 L631.5 438.5 L638.5 431.5 L645.5 424.5 L652.5 417.5 L659.5 410.5 L666.5 404.5 L673.5 397.5 L680.5 392.5 L687.5 386.5 L694.5 380.5 L701.5 377.5 L708.5 374.5 L715.5 370.5 L722.5 366.5 L729.5 362.5 L736.5 357.5 L743.5 353.5 L750.5 348.5 L757.5 343.5 L764.5 339.5 L771.5 336.5 L778.5 332.5 L785.5 328.5 L792.5 324.5 L799.5 318.5 L806.5 313.5 L813.5 308.5 L820.5 305.5 L827.5 302.5 L834.5 299.5 L841.5 295.5 L848.5 292.5 L855.5 289.5 L862.5 285.5 L869.5 283.5 L876.5 280.5 L883.5 277.5 L890.5 275.5 L897.5 272.5 L904.5 270.5 L911.5 268.5 L918.5 268.5 L925.5 266.5 L932.5 266.5 L939.5 266.5 L946.5 267.5 L953.5 268.5 L960.5 267.5 L967.5 267.5 L974.5 266.5 L981.5 269.5 L988.5 271.5 L995.5 273.5 L1002.5 273.5 L1009.5 273.5 L1016.5 274.5 L1023.5 275.5 L1030.5 276.5 L1037.5 278.5 L1044.5 281.5 L1051.5 285.5 L1058.5 290.5 L1065.5 295.5 L1072.5 299.5 L1079.5 303.5 L1086.5 307.5 L1093.5 312.5 L1100.5 317.5 L1107.5 323.5 L1114.5 330.5 L1121.5 335.5 L1128.5 340.5 L1135.5 345.5 L1142.5 350.5 L1149.5 357.5 L1156.5 364.5 L1163.5 372.5 L1170.5 379.5 L1177.5 386.5 L1184.5 392.5 L1191.5 399.5 L1198.5 406.5 L1205.5 413.5 L1212.5 421.5 L1219.5 429.5 L1226.5 437.5 L1233.5 444.5 L1240.5 450.5 L1247.5 457.5 L1254.5 464.5 L1261.5 472.5 L1268.5 479.5 L1275.5 486.5 L1282.5 492.5 L1289.5 498.5 L1296.5 504.5 L1303.5 510.5 L1310.5 516.5 L1317.5 523.5 L1324.5 529.5 L1331.5 537.5 L1338.5 544.5 L1345.5 551.5 L1352.5 558.5 L1359.5 564.5 L1366.5 571.5 L1373.5 578.5 L1380.5 585.5 L1387.5 593.5 L1394.5 600.5 L1401.5 607.5 L1408.5 615.5 L1415.5 621.5 L1422.5 628.5 L1429.5 635.5 L1436.5 641.5 L1443.5 648.5 L1450.5 652.5 L1457.5 656.5 L1464.5 660.5 L1471.5 664.5 L1478.5 667.5 L1485.5 670.5 L1492.5 674.5 L1499.5 677.5 L1506.5 681.5 L1513.5 685.5 L1520.5 688.5 L1527.5 691.5 L1534.5 693.5" stroke="#cc8a38"/>
<path d="M64.5 511.5 L71.5 510.5 L78.5 510.5 L85.5 508.5 L92.5 507.5 L99.5 509.5 L106.5 510.5 L113.5 513.5 L120.5 516.5 L127.5 516.5 L134.5 516.5 L141.5 517.5 L148.5 517.5 L155.5 518.5 L162.5 520.5 L169.5 527.5 L176.5 534.5 L183.5 544.5 L190.5 553.5 L197.5 558.5 L204.5 562.5 L211.5 567.5 L218.5 572.5 L225.5 576.5 L232.5 581.5 L239.5 586.5 L246.5 590.5 L253.5 596.5 L260.5 602.5 L267.5 608.5 L274.5 612.5 L281.5 616.5 L288.5 620.5 L295.5 623.5 L302.5 625.5 L309.5 627.5 L316.5 628.5 L323.5 629.5 L330.5 629.5 L337.5 631.5 L344.5 633.5 L351.5 634.5 L358.5 634.5 L365.5 633.5 L372.5 631.5 L379.5 625.5 L386.5 618.5 L393.5 610.5 L400.5 601.5 L407.5 592.5 L414.5 582.5 L421.5 574.5 L428.5 566.5 L435.5 559.5 L442.5 552.5 L449.5 544.5 L456.5 537.5 L463.5 529.5 L470.5 521.5 L477.5 513.5 L484.5 504.5 L491.5 495.5 L498.5 483.5 L505.5 472.5 L512.5 462.5 L519.5 450.5 L526.5 435.5 L533.5 420.5 L540.5 409.5 L547.5 397.5 L554.5 386.5 L561.5 372.5 L568.5 360.5 L575.5 348.5 L582.5 340.5 L589.5 333.5 L596.5 326.5 L603.5 321.5 L610.5 316.5 L617.5 313.5 L624.5 308.5 L631.5 301.5 L638.5 295.5 L645.5 288.5 L652.5 282.5 L659.5 276.5 L666.5 271.5 L673.5 265.5 L680.5 263.5 L687.5 258.5 L694.5 255.5 L701.5 259.5 L708.5 264.5 L715.5 267.5 L722.5 270.5 L729.5 275.5 L736.5 280.5 L743.5 285.5 L750.5 286.5 L757.5 290.5 L764.5 293.5 L771.5 299.5 L778.5 304.5 L785.5 308.5 L792.5 307.5 L799.5 303.5 L806.5 300.5 L813.5 296.5 L820.5 294.5 L827.5 291.5 L834.5 290.5 L841.5 289.5 L848.5 289.5 L855.5 289.5 L862.5 289.5 L869.5 290.5 L876.5 290.5 L883.5 289.5 L890.5 286.5 L897.5 286.5 L904.5 284.5 L911.5 278.5 L918.5 272.5 L925.5 266.5 L932.5 261.5 L939.5 257.5 L946.5 254.5 L953.5 251.5 L960.5 248.5 L967.5 244.5 L974.5 240.5 L981.5 239.5 L988.5 237.5 L995.5 237.5 L1002.5 238.5 L1009.5 243.5 L1016.5 249.5 L1023.5 253.5 L1030.5 259.5 L1037.5 266.5 L1044.5 273.5 L1051.5 281.5 L1058.5 291.5 L1065.5 301.5 L1072.5 309.5 L1079.5 316.5 L1086.5 324.5 L1093.5 335.5 L1100.5 347.5 L1107.5 361.5 L1114.5 377.5 L1121.5 393.5 L1128.5 408.5 L1135.5 424.5 L1142.5 439.5 L1149.5 456.5 L1156.5 474.5 L1163.5 493.5 L1170.5 510.5 L1177.5 527.5 L1184.5 544.5 L1191.5 559.5 L1198.5 574.5 L1205.5 589.5 L1212.5 603.5 L1219.5 616.5 L1226.5 625.5 L1233.5 634.5 L1240.5 641.5 L1247.5 649.5 L1254.5 656.5 L1261.5 663.5 L1268.5 667.5 L1275.5 671.5 L1282.5 676.5 L1289.5 681.5 L1296.5 684.5 L1303.5 685.5 L1310.5 686.5 L1317.5 685.5 L1324.5 682.5 L1331.5 680.5 L1338.5 680.5 L1345.5 678.5 L1352.5 677.5 L1359.5 672.5 L1366.5 669.5 L1373.5 664.5 L1380.5 661.5 L1387.5 659.5 L1394.5 657.5 L1401.5 656.5 L1408.5 655.5 L1415.5 654.5 L1422.5 654.5 L1429.5 654.5 L1436.5 657.5 L1443.5 661.5 L1450.5 663.5 L1457.5 664.5 L1464.5 665.5 L1471.5 665.5 L1478.5 666.5 L1485.5 670.5 L1492.5 672.5 L1499.5 674.5 L1506.5 678.5 L1513.5 684.5 L1520.5 690.5 L1527.5 697.5 L1534.5 703.5" stroke="#c038c4"/>
<path d="M64.5 517.5 L71.5 509.5 L78.5 505.5 L85.5 501.5 L92.5 501.5 L99.5 502.5 L106.5 506.5 L113.5 511.5 L120.5 518.5 L127.5 525.5 L134.5 528.5 L141.5 527.5 L148.5 529.5 L155.5 535.5 L162.5 538.5 L169.5 556.5 L176.5 573.5 L183.5 592.5 L190.5 608.5 L197.5 627.5 L204.5 649.5 L211.5 670.5 L218.5 686.5 L225.5 701.5 L232.5 710.5 L239.5 706.5 L246.5 698.5 L253.5 690.5 L260.5 682.5 L267.5 675.5 L274.5 663.5 L281.5 652.5 L288.5 643.5 L295.5 634.5 L302.5 626.5 L309.5 619.5 L316.5 614.5 L323.5 606.5 L330.5 598.5 L337.5 592.5 L344.5 586.5 L351.5 580.5 L358.5 572.5 L365.5 563.5 L372.5 557.5 L379.5 551.5 L386.5 543.5 L393.5 533.5 L400.5 522.5 L407.5 509.5 L414.5 498.5 L421.5 491.5 L428.5 484.5 L435.5 479.5 L442.5 472.5 L449.5 462.5 L456.5 454.5 L463.5 449.5 L470.5 443.5 L477.5 439.5 L484.5 429.5 L491.5 413.5 L498.5 393.5 L505.5 375.5 L512.5 359.5 L519.5 336.5 L526.5 309.5 L533.5 278.5 L540.5 262.5 L547.5 245.5 L554.5 230.5 L561.5 211.5 L568.5 203.5 L575.5 191.5 L582.5 190.5 L589.5 202.5 L596.5 214.5 L603.5 235.5 L610.5 243.5 L617.5 256.5 L624.5 264.5 L631.5 280.5 L638.5 290.5 L645.5 300.5 L652.5 298.5 L659.5 290.5 L666.5 289.5 L673.5 282.5 L680.5 284.5 L687.5 274.5 L694.5 272.5 L701.5 286.5 L708.5 299.5 L715.5 311.5 L722.5 323.5 L729.5 332.5 L736.5 336.5 L743.5 339.5 L750.5 332.5 L757.5 339.5 L764.5 342.5 L771.5 333.5 L778.5 323.5 L785.5 313.5 L792.5 300.5 L799.5 287.5 L806.5 274.5 L813.5 266.5 L820.5 265.5 L827.5 260.5 L834.5 255.5 L841.5 249.5 L848.5 246.5 L855.5 242.5 L862.5 243.5 L869.5 250.5 L876.5 259.5 L883.5 263.5 L890.5 261.5 L897.5 259.5 L904.5 255.5 L911.5 251.5 L918.5 246.5 L925.5 241.5 L932.5 240.5 L939.5 234.5 L946.5 230.5 L953.5 223.5 L960.5 219.5 L967.5 214.5 L974.5 211.5 L981.5 215.5 L988.5 219.5 L995.5 229.5 L1002.5 233.5 L1009.5 244.5 L1016.5 257.5 L1023.5 274.5 L1030.5 297.5 L1037.5 324.5 L1044.5 354.5 L1051.5 378.5 L1058.5 408.5 L1065.5 432.5 L1072.5 453.5 L1079.5 471.5 L1086.5 486.5 L1093.5 509.5 L1100.5 525.5 L1107.5 544.5 L1114.5 565.5 L1121.5 585.5 L1128.5 596.5 L1135.5 610.5 L1142.5 632.5 L1149.5 654.5 L1156.5 677.5 L1163.5 696.5 L1170.5 707.5 L1177.5 714.5 L1184.5 712.5 L1191.5 713.5 L1198.5 719.5 L1205.5 724.5 L1212.5 724.5 L1219.5 721.5 L1226.5 713.5 L1233.5 698.5 L1240.5 693.5 L1247.5 690.5 L1254.5 690.5 L1261.5 691.5 L1268.5 686.5 L1275.5 677.5 L1282.5 672.5 L1289.5 666.5 L1296.5 663.5 L1303.5 660.5 L1310.5 658.5 L1317.5 651.5 L1324.5 645.5 L1331.5 637.5 L1338.5 634.5 L1345.5 633.5 L1352.5 634.5 L1359.5 630.5 L1366.5 630.5 L1373.5 632.5 L1380.5 633.5 L1387.5 636.5 L1394.5 636.5 L1401.5 639.5 L1408.5 645.5 L1415.5 651.5 L1422.5 655.5 L1429.5 667.5 L1436.5 678.5 L1443.5 690.5 L1450.5 698.5 L1457.5 705.5 L1464.5 714.5 L1471.5 719.5 L1478.5 721.5 L1485.5 726.5 L1492.5 728.5 L1499.5 726.5 L1506.5 726.5 L1513.5 730.5 L1520.5 739.5 L1527.5 750.5 L1534.5 760.5" stroke="#0a0a30"/>
<path d="M64.5 489.5 L71.5 490.5 L78.5 491.5 L85.5 495.5 L92.5 505.5 L99.5 512.5 L106.5 522.5 L113.5 530.5 L120.5 545.5 L127.5 544.5 L134.5 543.5 L141.5 532.5 L148.5 529.5 L155.5 525.5 L162.5 532.5 L169.5 570.5 L176.5 613.5 L183.5 655.5 L190.5 692.5 L197.5 721.5 L204.5 728.5 L211.5 726.5 L218.5 717.5 L225.5 709.5 L232.5 699.5 L239.5 683.5 L246.5 670.5 L253.5 662.5 L260.5 654.5 L267.5 650.5 L274.5 642.5 L281.5 633.5 L288.5 623.5 L295.5 613.5 L302.5 603.5 L309.5 597.5 L316.5 594.5 L323.5 588.5 L330.5 583.5 L337.5 581.5 L344.5 575.5 L351.5 566.5 L358.5 555.5 L365.5 544.5 L372.5 533.5 L379.5 526.5 L386.5 520.5 L393.5 511.5 L400.5 501.5 L407.5 484.5 L414.5 470.5 L421.5 463.5 L428.5 457.5 L435.5 457.5 L442.5 459.5 L449.5 453.5 L456.5 446.5 L463.5 442.5 L470.5 429.5 L477.5 418.5 L484.5 405.5 L491.5 380.5 L498.5 344.5 L505.5 320.5 L512.5 299.5 L519.5 268.5 L526.5 239.5 L533.5 213.5 L540.5 204.5 L547.5 191.5 L554.5 193.5 L561.5 183.5 L568.5 193.5 L575.5 177.5 L582.5 188.5 L589.5 212.5 L596.5 244.5 L603.5 277.5 L610.5 309.5 L617.5 323.5 L624.5 317.5 L631.5 315.5 L638.5 304.5 L645.5 291.5 L652.5 274.5 L659.5 264.5 L666.5 263.5 L673.5 261.5 L680.5 276.5 L687.5 275.5 L694.5 279.5 L701.5 308.5 L708.5 338.5 L715.5 346.5 L722.5 371.5 L729.5 385.5 L736.5 363.5 L743.5 339.5 L750.5 319.5 L757.5 306.5 L764.5 299.5 L771.5 303.5 L778.5 306.5 L785.5 307.5 L792.5 294.5 L799.5 275.5 L806.5 245.5 L813.5 227.5 L820.5 222.5 L827.5 225.5 L834.5 235.5 L841.5 253.5 L848.5 265.5 L855.5 262.5 L862.5 260.5 L869.5 264.5 L876.5 265.5 L883.5 262.5 L890.5 259.5 L897.5 258.5 L904.5 246.5 L911.5 237.5 L918.5 231.5 L925.5 223.5 L932.5 222.5 L939.5 222.5 L946.5 222.5 L953.5 216.5 L960.5 216.5 L967.5 206.5 L974.5 199.5 L981.5 208.5 L988.5 222.5 L995.5 242.5 L1002.5 260.5 L1009.5 289.5 L1016.5 306.5 L1023.5 326.5 L1030.5 352.5 L1037.5 388.5 L1044.5 419.5 L1051.5 449.5 L1058.5 490.5 L1065.5 512.5 L1072.5 518.5 L1079.5 522.5 L1086.5 523.5 L1093.5 527.5 L1100.5 538.5 L1107.5 570.5 L1114.5 607.5 L1121.5 648.5 L1128.5 665.5 L1135.5 683.5 L1142.5 694.5 L1149.5 701.5 L1156.5 707.5 L1163.5 727.5 L1170.5 731.5 L1177.5 734.5 L1184.5 723.5 L1191.5 719.5 L1198.5 710.5 L1205.5 718.5 L1212.5 713.5 L1219.5 719.5 L1226.5 707.5 L1233.5 686.5 L1240.5 667.5 L1247.5 666.5 L1254.5 660.5 L1261.5 675.5 L1268.5 686.5 L1275.5 687.5 L1282.5 679.5 L1289.5 672.5 L1296.5 652.5 L1303.5 635.5 L1310.5 629.5 L1317.5 623.5 L1324.5 618.5 L1331.5 623.5 L1338.5 633.5 L1345.5 638.5 L1352.5 644.5 L1359.5 641.5 L1366.5 636.5 L1373.5 631.5 L1380.5 628.5 L1387.5 628.5 L1394.5 631.5 L1401.5 642.5 L1408.5 659.5 L1415.5 673.5 L1422.5 682.5 L1429.5 703.5 L1436.5 715.5 L1443.5 721.5 L1450.5 724.5 L1457.5 727.5 L1464.5 724.5 L1471.5 722.5 L1478.5 720.5 L1485.5 728.5 L1492.5 729.5 L1499.5 728.5 L1506.5 729.5 L1513.5 741.5 L1520.5 750.5 L1527.5 771.5 L1534.5 791.5" stroke="#000"/>
</g>
<!-- header -->
<g fill="none" stroke="#1a1a1a" stroke-width="1.05" stroke-linecap="butt">
<g transform="translate(62.2,1.6) scale(0.98,0.95)">
<path d="M0.3 3.8H4.6M2.4 0.5V12M2.3 4.2L0.2 9M2.6 5.2L4.4 7.2M8.2 0.3L8.6 1.6M5.3 3.6V2.1H11.6V3.6M6.6 4.6H10.4M5.2 6.6H11.8M8.5 6.6V11.6L7.4 11.1M6.8 8.4L5.4 10.6M10.2 8.4L11.7 10.4"/>
</g>
<g transform="translate(74.1,1.6) scale(0.98,0.95)">
<path d="M0.3 3.8H4.6M2.4 0.5V12M2.3 4.2L0.2 9M2.6 5.2L4.4 7.2M5.6 0.6L6.6 1.8M5.6 2.6V12M7.2 1.4H11.4V11.6L10.3 11.2M7.6 3.6H9.8V5.6H7.6ZM7.2 7.2H10.2V9.8H7.2Z"/>
</g>
<g transform="translate(86,1.6) scale(0.98,0.95)">
<path d="M0.9 1.2L2.1 2.4M0.5 4.6L1.9 5.8M0.4 11.2L2.6 7.8M7.6 0.3V11M4.3 3.4H11.2V11.4H4.3ZM4.3 7.2H11.2"/>
</g>
<g transform="translate(97.9,1.6) scale(0.98,0.95)">
<path d="M5.6 0.3L6.8 1.7M1.4 3.2H10.6M6 3.2V11.2M2.4 7H9.6M0.4 11.3H11.6"/>
</g>
<g transform="translate(109.8,1.6) scale(0.98,0.95)">
<path d="M1.2 0.8L2.4 2M0.3 4.6H2.3V9.6L0.5 11M1.6 10.2Q3.5 11.6 11.8 11.6M4 2.6H11.2M6.8 0.4L4.6 6.4H10.6M7.8 3.8V10.4M4.2 8.4H11.4"/>
</g>
</g>
<g fill="none" stroke="#e3a048" stroke-width="1">
<path d="M128.3 4.8L124.3 7.6L128.3 10.4M156.8 4.8L160.8 7.6L156.8 10.4"/>
<g transform="translate(130.5,1.6) scale(0.98,0.95)"><path d="M2.5 0.8V11.8M2.5 0.8H9.5V11.8M2.5 6H9.5M2.5 11.3H9.5"/></g>
<g transform="translate(143,1.6) scale(0.98,0.95)"><path d="M3 0.4L0.9 4.2H3.8L0.6 8.4L4.2 7.6M0.5 11.4L4.6 9.8M5.2 3.8H11M4.8 6.8H11.6M7.6 0.4Q8 7.6 11.6 11.2M11 7.8L7.8 11.6M9.9 0.8L11 2.2"/></g>
</g>
<g fill="none" stroke="#1c1c6a" stroke-width="1">
<path d="M172.5 0V11.5H182V0"/>
<path d="M172.5 2.5L175.5 6.5L178.5 3.8L182 6.5M172.5 5.5L175.5 9.5L178.5 6.8L182 9.5"/>
</g>
<g font-size="12" font-family="Liberation Sans, sans-serif">
<text x="186" y="11.6" textLength="133" lengthAdjust="spacingAndGlyphs" fill="#1a1a1a">MA(5,10,30,60,100,200)</text>
<text x="324.5" y="11.6" textLength="74.5" lengthAdjust="spacingAndGlyphs" fill="#1a1a1a">MA5:7295.20</text>
<text x="406.5" y="11.6" textLength="82.5" lengthAdjust="spacingAndGlyphs" fill="#2b3a80">MA10:7545.40</text>
<text x="497.3" y="11.6" textLength="81" lengthAdjust="spacingAndGlyphs" fill="#d040d8">MA30:8002.07</text>
<text x="586.8" y="11.6" textLength="81.6" lengthAdjust="spacingAndGlyphs" fill="#e09a40">MA60:8085.43</text>
<text x="677.4" y="11.6" textLength="88.2" lengthAdjust="spacingAndGlyphs" fill="#808890">MA100:9202.34</text>
<text x="774" y="11.6" textLength="88.6" lengthAdjust="spacingAndGlyphs" fill="#c05858">MA200:9747.59</text>
</g>
<!-- toolbar -->
<rect x="1425.5" y="-1" width="74" height="14.5" fill="#fff" stroke="#444"/>
<g fill="none" stroke="#444" stroke-width="1.15">
<g transform="translate(1432.2,1.8) scale(0.88,0.84)"><path d="M6 0.4L0.4 5.4M6 0.4L11.6 5.4M3 5.6H9M2.2 8.2H9.8M6 5.6V11.2M0.8 11.4H11.2"/></g>
<g transform="translate(1444.1,1.8) scale(0.88,0.84)"><path d="M3 0.4V1.8M0.6 2.4H5.4M1.6 3.6L2.4 5.6M4.4 3.6L3.6 5.6M0.4 6.2H5.6M1.2 7.6H4.8V11.4H1.2ZM7.2 0.8V12M7.2 1H10.8L9 4.6Q11.6 6.5 10.6 8.6L9.4 8.4"/></g>
<g transform="translate(1456,1.8) scale(0.88,0.84)"><path d="M5.6 0.3L6.8 1.7M1.4 3.2H10.6M6 3.2V11.2M2.4 7H9.6M0.4 11.3H11.6"/></g>
<g transform="translate(1467.9,1.8) scale(0.88,0.84)"><path d="M0.8 0.8H5V4.6H0.8ZM0.8 2.7H5M0.2 6H5.8M3 6V10M3 8H5.4M1.6 7.4L0.4 10.6M0.8 10Q3 11.8 11.8 11.4M6.2 0.8H11.6M8.6 0.8L8 2.4M6.8 2.4H11V8.6H6.8ZM6.8 4.6H11M6.8 6.6H11M8 8.8L6.2 10.6M9.8 8.8L11.6 10.4"/></g>
</g>
<path d="M1482 3.6H1490.5L1486.25 10.2Z" fill="#3a3f4a"/>
<g fill="none" stroke="#2f5f66" stroke-width="1">
<path d="M1503.5 -1V12.5H1516.5V-1M1519.5 -1V12.5H1532.5V-1M1535.5 -1V12.5H1548.5V-1M1551.5 -1V12.5H1564.5V-1" stroke-width="1.2"/>
</g>
<g fill="#23464f">
<rect x="1509.2" y="1.2" width="1.7" height="2.3"/><rect x="1509.2" y="8" width="1.7" height="2.6"/>
<rect x="1505" y="4.8" width="2.6" height="1.7"/><rect x="1512.4" y="4.8" width="2.6" height="1.7"/>
<rect x="1509.2" y="4.8" width="1.7" height="1.7"/>
</g>
<g fill="none" stroke="#2a4a58" stroke-width="1.4">
<path d="M1522.3 1.8V10M1523.5 9.8H1530.5M1526 2.5V7.5M1538.5 1.8V10M1539.7 9.6H1546.8"/>
<path d="M1553.9 1.3H1556.5V10.5H1553.9Z" stroke-width="1.3"/>
</g>
<g fill="#2a4a58">
<path d="M1521 3.2L1522.3 1L1523.6 3.2ZM1529.8 8.5L1532 9.8L1529.8 11.1ZM1528.8 2.5V7.5L1526.4 5ZM1537.2 3.2L1538.5 1L1539.8 3.2ZM1546 8.3L1548.2 9.6L1546 10.9Z"/>
</g>
<path d="M1541.3 2.2L1545.6 5.4L1541.3 8.6Z" fill="#3a6ea0"/>
<path d="M1556.5 5.9H1560.2" stroke="#1f78c0" stroke-width="2.2" fill="none"/>
<path d="M1559.2 2.9L1563 5.9L1559.2 8.9Z" fill="#1f78c0"/>
<!-- price line -->
<path d="M61 814.5H1566" stroke="#3c4c58" stroke-dasharray="3 3" fill="none"/>
<rect x="1566.5" y="814.5" width="70" height="17" fill="#fffcf0" stroke="#c09048"/>
<text x="1569.3" y="827" font-size="12" fill="#c89a48" textLength="45.56" lengthAdjust="spacingAndGlyphs">7106.00</text>
<path d="M1625.5 813.5L1630 806V813.5Z" fill="#e08a28"/>
<!-- extreme labels -->
<path d="M530 107.5H537M533.5 104V111" stroke="#000" fill="none"/>
<text x="539" y="105" font-size="12" font-weight="bold" fill="#c0504d">12796.00</text>
<path d="M181 756.5H189" stroke="#000" fill="none"/>
<text x="189" y="767.8" font-size="12" font-weight="bold" fill="#5e9c68">7576.00</text>
<path d="M1522 842.5H1535" stroke="#000" fill="none"/>
<text x="1477.5" y="854" font-size="12" font-weight="bold" fill="#6aa872">6882.00</text>
</svg>
</body></html>
